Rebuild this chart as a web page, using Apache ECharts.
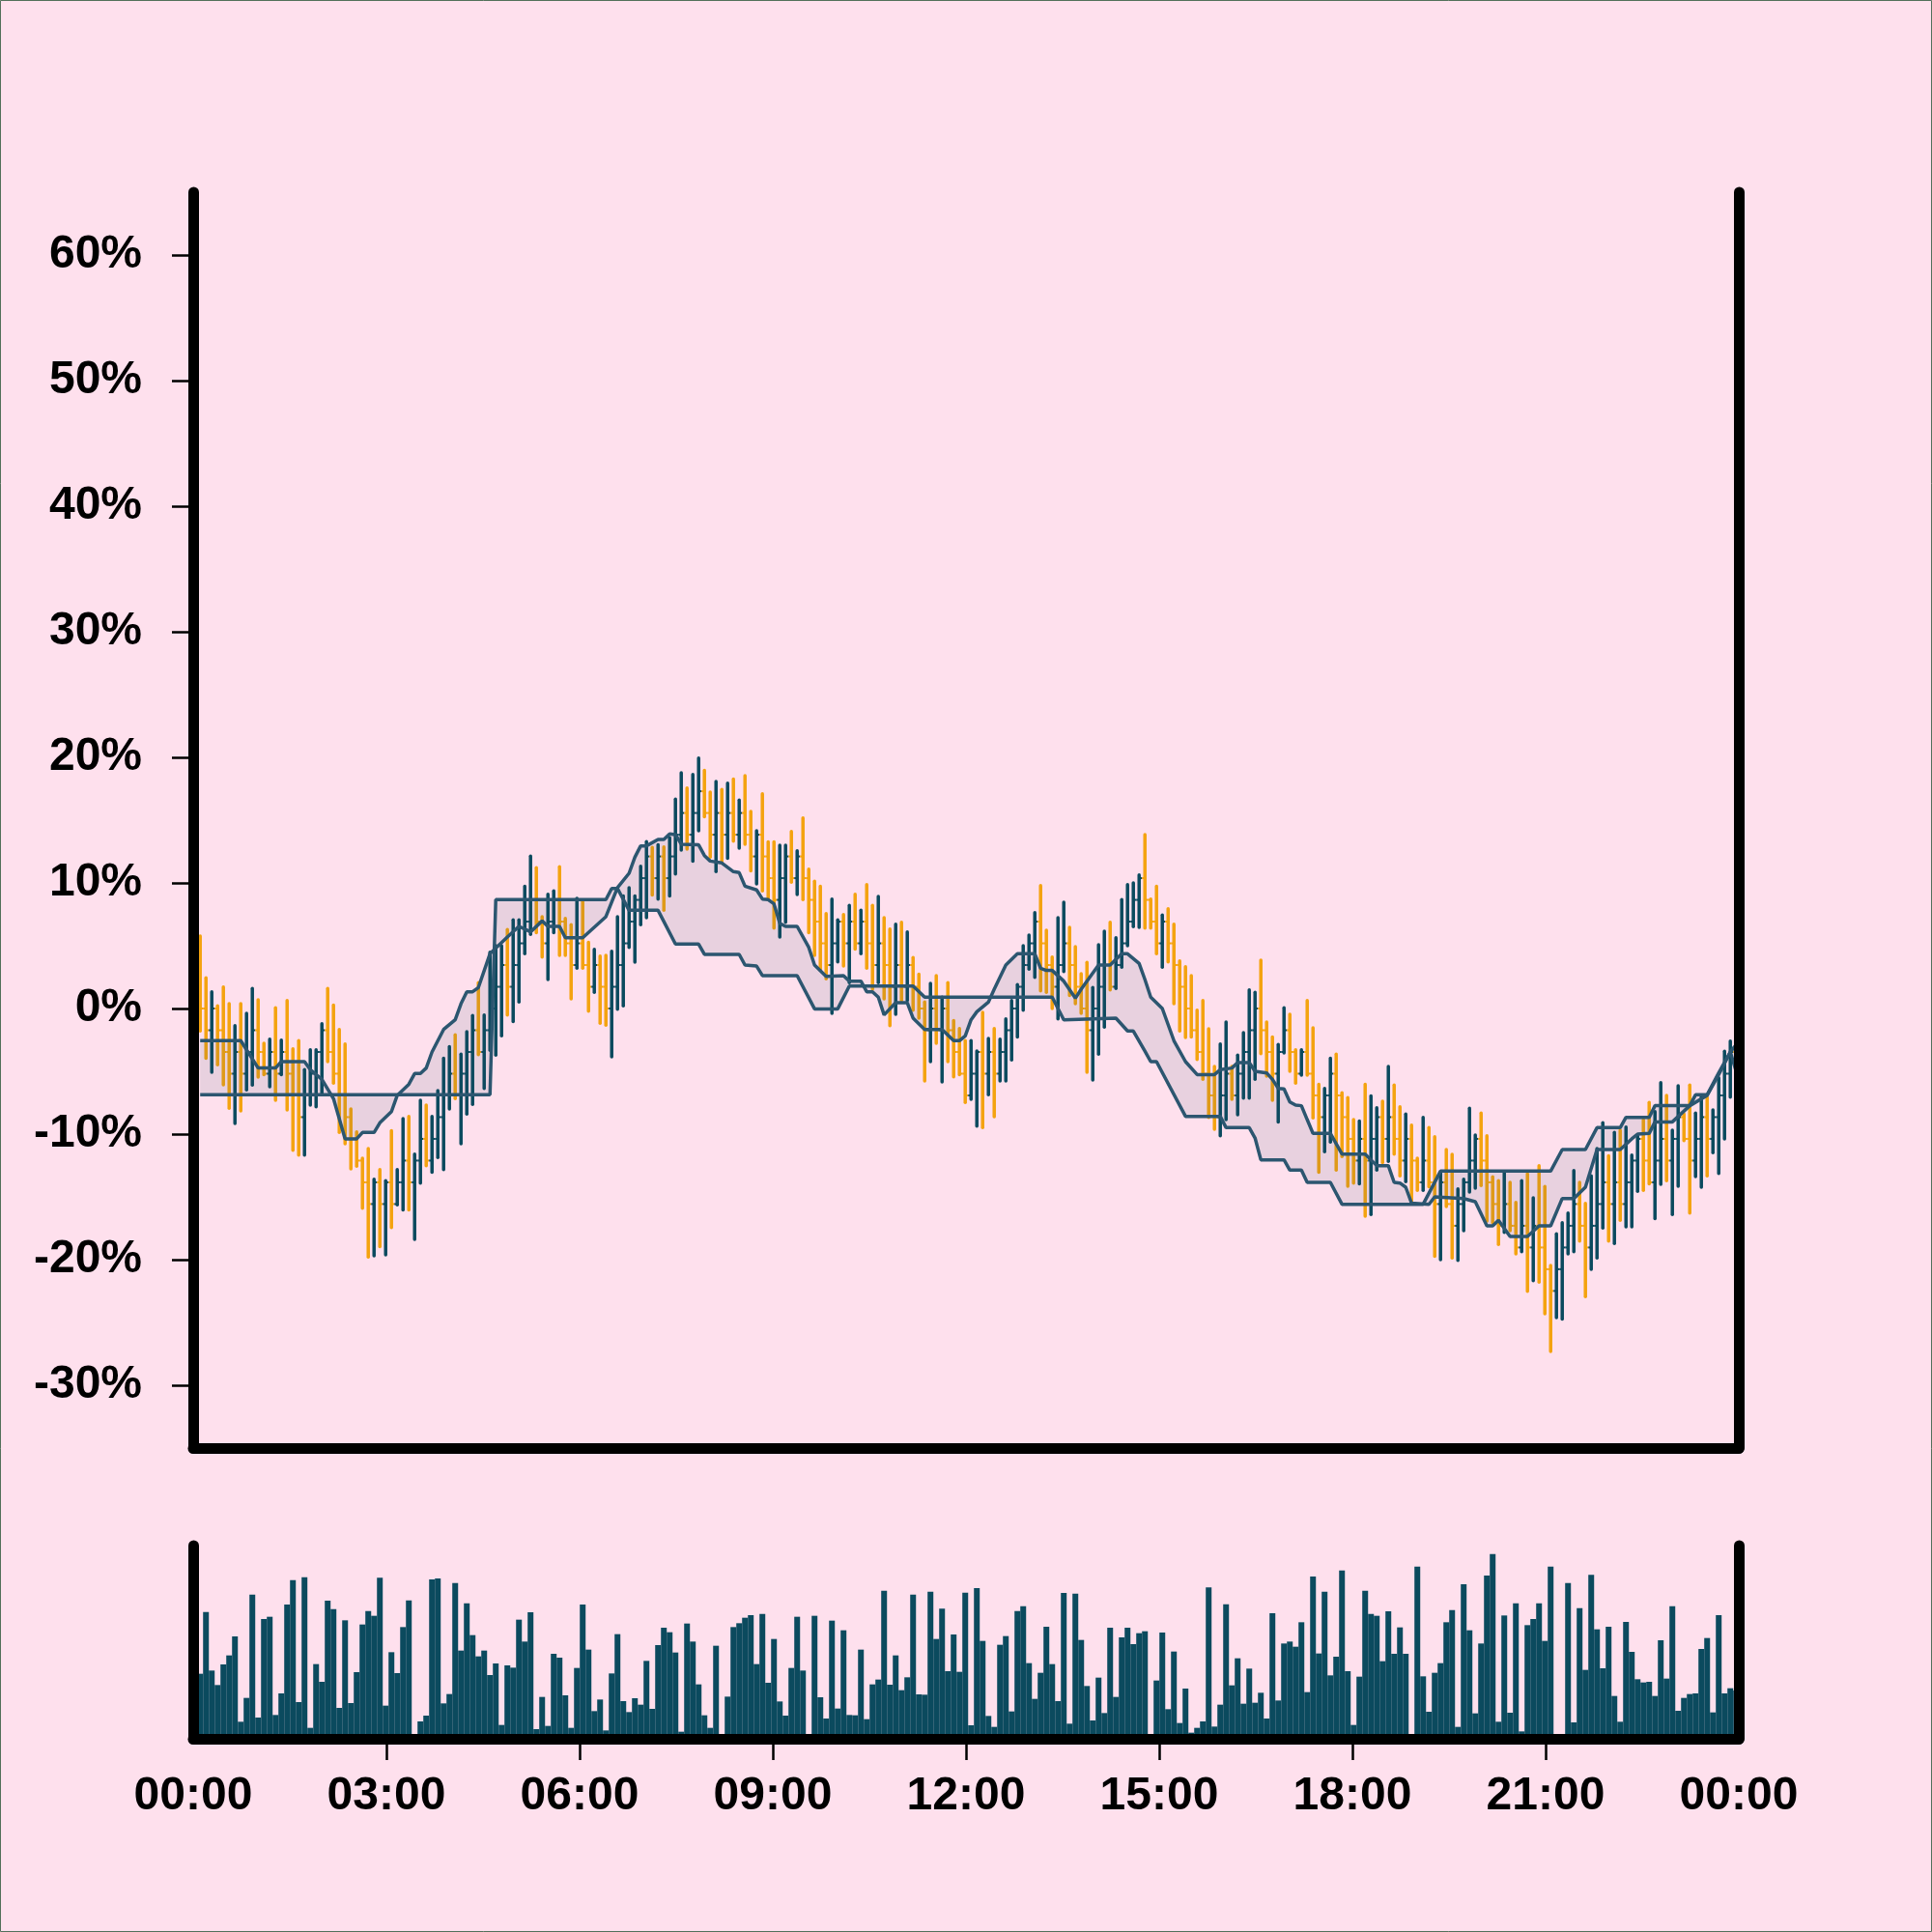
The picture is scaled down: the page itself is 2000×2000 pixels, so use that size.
<!DOCTYPE html>
<html>
<head>
<meta charset="utf-8">
<script src="https://cdn.jsdelivr.net/npm/echarts/dist/echarts.min.js"></script>
<style>
html,body{margin:0;padding:0;background:#fee0ed;}
#chart{width:2000px;height:2000px;}
</style>
</head>
<body>
<div id="chart"></div>
<script>
// ---- time layout of bars (minutes after 00:00) ----
const START_MIN = 6.5;
const STEP_MIN = 5.4;

// ---- OHLC values (% change) ----
const opens = [
1.73,0,-1.73,0,-1.73,-3.46,-5.19,-3.46,-5.19,-3.46,
-1.73,-3.46,-5.19,-3.46,-5.19,-3.46,-5.19,-6.92,-8.65,-6.92,
-5.19,-3.46,-1.73,-3.46,-5.19,-6.92,-8.65,-10.38,-12.11,-13.84,
-15.57,-13.84,-15.57,-13.84,-15.57,-13.84,-12.11,-13.84,-12.11,-10.38,
-12.11,-10.38,-8.65,-6.92,-5.19,-6.92,-5.19,-3.46,-1.73,-3.46,
-1.73,0,1.73,3.46,1.73,3.46,5.19,6.92,8.65,6.92,
5.19,6.92,8.65,6.92,5.19,3.46,5.19,3.46,1.73,3.46,
1.73,0,1.73,3.46,5.19,6.92,8.65,10.38,12.11,10.38,
12.11,10.38,12.11,13.84,15.57,13.84,15.57,17.30,15.57,13.84,
15.57,13.84,15.57,13.84,15.57,13.84,12.11,13.84,12.11,10.38,
8.65,10.38,12.11,10.38,12.11,10.38,8.65,6.92,5.19,3.46,
5.19,6.92,5.19,6.92,5.19,6.92,5.19,3.46,5.19,3.46,
1.73,3.46,1.73,3.46,1.73,0,-1.73,0,-1.73,0,
-1.73,-3.46,-5.19,-6.92,-5.19,-3.46,-5.19,-3.46,-5.19,-3.46,
-1.73,0,1.73,3.46,5.19,6.92,5.19,3.46,1.73,3.46,
5.19,3.46,1.73,0,-1.73,0,1.73,3.46,1.73,3.46,
5.19,6.92,8.65,10.38,8.65,6.92,5.19,6.92,5.19,3.46,
1.73,0,-1.73,-3.46,-5.19,-6.92,-8.65,-6.92,-5.19,-6.92,
-5.19,-3.46,-1.73,0,-1.73,-3.46,-5.19,-3.46,-1.73,-3.46,
-5.19,-3.46,-5.19,-6.92,-8.65,-6.92,-5.19,-6.92,-8.65,-10.38,
-12.11,-10.38,-12.11,-10.38,-8.65,-10.38,-8.65,-10.38,-12.11,-10.38,
-12.11,-13.84,-12.11,-13.84,-15.57,-13.84,-15.57,-17.30,-15.57,-13.84,
-12.11,-10.38,-12.11,-13.84,-15.57,-17.30,-15.57,-17.30,-19.03,-17.30,
-19.03,-17.30,-19.03,-20.76,-22.49,-20.76,-19.03,-17.30,-15.57,-17.30,
-19.03,-17.30,-15.57,-13.84,-15.57,-13.84,-15.57,-13.84,-12.11,-10.38,
-12.11,-13.84,-12.11,-10.38,-12.11,-10.38,-8.65,-10.38,-12.11,-10.38,
-8.65,-10.38,-8.65,-6.92,-5.19,-3.46
];
const closes = [
0,-1.73,0,-1.73,-3.46,-5.19,-3.46,-5.19,-3.46,-1.73,
-3.46,-5.19,-3.46,-5.19,-3.46,-5.19,-6.92,-8.65,-6.92,-5.19,
-3.46,-1.73,-3.46,-5.19,-6.92,-8.65,-10.38,-12.11,-13.84,-15.57,
-13.84,-15.57,-13.84,-15.57,-13.84,-12.11,-13.84,-12.11,-10.38,-12.11,
-10.38,-8.65,-6.92,-5.19,-6.92,-5.19,-3.46,-1.73,-3.46,-1.73,
0,1.73,3.46,1.73,3.46,5.19,6.92,8.65,6.92,5.19,
6.92,8.65,6.92,5.19,3.46,5.19,3.46,1.73,3.46,1.73,
0,1.73,3.46,5.19,6.92,8.65,10.38,12.11,10.38,12.11,
10.38,12.11,13.84,15.57,13.84,15.57,17.30,15.57,13.84,15.57,
13.84,15.57,13.84,15.57,13.84,12.11,13.84,12.11,10.38,8.65,
10.38,12.11,10.38,12.11,10.38,8.65,6.92,5.19,3.46,5.19,
6.92,5.19,6.92,5.19,6.92,5.19,3.46,5.19,3.46,1.73,
3.46,1.73,3.46,1.73,0,-1.73,0,-1.73,0,-1.73,
-3.46,-5.19,-6.92,-5.19,-3.46,-5.19,-3.46,-5.19,-3.46,-1.73,
0,1.73,3.46,5.19,6.92,5.19,3.46,1.73,3.46,5.19,
3.46,1.73,0,-1.73,0,1.73,3.46,1.73,3.46,5.19,
6.92,8.65,10.38,8.65,6.92,5.19,6.92,5.19,3.46,1.73,
0,-1.73,-3.46,-5.19,-6.92,-8.65,-6.92,-5.19,-6.92,-5.19,
-3.46,-1.73,0,-1.73,-3.46,-5.19,-3.46,-1.73,-3.46,-5.19,
-3.46,-5.19,-6.92,-8.65,-6.92,-5.19,-6.92,-8.65,-10.38,-12.11,
-10.38,-12.11,-10.38,-8.65,-10.38,-8.65,-10.38,-12.11,-10.38,-12.11,
-13.84,-12.11,-13.84,-15.57,-13.84,-15.57,-17.30,-15.57,-13.84,-12.11,
-10.38,-12.11,-13.84,-15.57,-17.30,-15.57,-17.30,-19.03,-17.30,-19.03,
-17.30,-19.03,-20.76,-22.49,-20.76,-19.03,-17.30,-15.57,-17.30,-19.03,
-17.30,-15.57,-13.84,-15.57,-13.84,-15.57,-13.84,-12.11,-10.38,-12.11,
-13.84,-12.11,-10.38,-12.11,-10.38,-8.65,-10.38,-12.11,-10.38,-8.65,
-10.38,-8.65,-6.92,-5.19,-3.46,-5.19
];
const highs = [
5.77,2.44,1.33,0.21,1.72,0.38,-1.36,0.38,-0.38,1.59,
0.69,-2.77,-2.44,0.05,-2.51,0.64,-3.21,-2.56,-4.87,-3.28,
-3.28,-1.21,1.59,0.26,-1.67,-2.82,-8.0,-9.82,-11.92,-11.15,
-13.59,-12.82,-13.72,-9.74,-12.82,-8.77,-8.59,-11.59,-7.31,-7.69,
-8.59,-6.54,-3.97,-3.03,-2.10,-3.64,-1.85,-0.56,2.05,-0.51,
4.49,5.0,5.0,6.28,7.05,7.05,9.74,12.13,11.21,7.31,
9.10,9.36,11.28,7.18,6.67,8.77,8.51,5.26,4.72,4.18,
4.23,4.56,7.31,8.97,9.62,8.97,11.33,13.28,12.82,13.03,
12.87,13.59,16.67,18.77,17.56,18.64,19.95,18.97,17.23,18.08,
17.44,17.95,18.26,16.59,18.54,15.69,14.15,17.10,13.26,13.26,
13.0,13.0,14.10,12.56,15.18,11.10,10.13,9.74,7.56,8.72,
7.05,7.49,8.21,9.10,7.82,9.87,8.21,8.92,7.23,6.33,
6.72,6.87,6.10,4.05,2.74,0.51,2.0,2.62,0.90,2.05,
-0.97,-1.59,-2.56,-2.56,-3.38,-0.31,-2.38,-1.59,-2.44,-0.82,
0.64,1.90,5.0,5.85,7.64,9.79,6.23,4.10,7.23,8.46,
6.46,4.92,2.77,3.67,1.67,5.08,6.15,6.87,5.64,8.67,
9.87,10.0,10.64,13.85,8.72,9.74,7.44,7.95,6.72,3.79,
3.33,2.62,-0.13,0.64,-1.62,-4.62,-2.82,-1.08,-4.62,-3.72,
-1.92,1.49,1.28,3.85,-1.08,-2.26,-2.87,0.05,-0.46,-3.28,
-3.28,0.64,-1.54,-6.03,-6.36,-3.97,-3.64,-6.72,-7.10,-8.85,
-8.97,-6.03,-6.97,-7.90,-7.38,-4.62,-6.10,-7.82,-8.41,-9.28,
-11.92,-8.67,-9.49,-10.21,-13.03,-11.23,-11.62,-14.36,-13.59,-7.95,
-10.08,-8.33,-10.13,-13.41,-13.72,-13.08,-13.85,-15.44,-13.72,-13.15,
-15.08,-12.51,-14.18,-20.46,-17.95,-17.05,-16.28,-12.90,-13.85,-15.51,
-13.33,-11.15,-9.10,-11.74,-9.87,-9.69,-9.44,-11.67,-10.13,-8.85,
-7.49,-8.21,-5.90,-6.92,-9.69,-6.15,-8.41,-6.10,-8.33,-6.92,
-7.05,-8.08,-5.51,-3.40,-2.60,-2.80
];
const lows = [
-1.79,-3.97,-5.08,-4.49,-6.08,-7.95,-9.15,-8.15,-6.49,-6.10,
-5.46,-5.26,-6.23,-7.31,-5.26,-8.08,-11.28,-11.67,-11.67,-7.69,
-7.82,-6.79,-4.23,-5.95,-9.87,-10.77,-12.77,-12.56,-15.90,-19.79,
-19.69,-18.97,-19.62,-17.44,-15.64,-16.03,-16.03,-18.38,-13.90,-12.51,
-13.03,-11.87,-12.82,-8.0,-7.18,-10.77,-8.41,-7.64,-3.67,-6.36,
-3.33,-3.72,-2.18,-0.51,-1.03,0.51,4.36,5.90,6.03,4.10,
2.31,6.03,4.23,4.23,0.77,3.21,3.21,-0.21,1.28,-1.18,
-1.33,-3.85,-0.05,0.21,4.87,3.69,6.67,7.23,9.03,8.72,
7.82,8.97,10.72,12.62,12.69,11.74,14.15,15.26,12.05,10.90,
11.67,11.97,13.33,12.77,13.08,10.97,9.92,9.36,8.67,6.41,
5.69,6.87,10.05,9.08,8.67,6.03,4.23,3.08,2.36,-0.38,
3.72,3.38,2.05,4.74,4.36,3.21,1.54,2.05,0.77,-1.36,
-0.46,0.64,0.64,-0.13,-0.77,-5.77,-4.23,-2.77,-5.85,-4.23,
-5.44,-5.26,-7.49,-7.23,-9.36,-9.49,-6.87,-8.62,-5.77,-5.77,
-4.10,-2.26,-0.13,3.13,2.49,1.41,1.28,0,-0.82,2.95,
1.03,0.38,-0.38,-5.08,-5.69,-3.64,-1.49,1.49,1.59,3.28,
5.0,6.51,6.46,6.41,6.41,4.36,3.28,3.72,0.38,-1.79,
-2.31,-2.26,-4.05,-5.64,-8.67,-9.62,-10.13,-8.85,-7.23,-8.46,
-7.13,-7.13,-5.64,-3.59,-5.38,-7.31,-9.03,-3.54,-5.0,-5.95,
-5.31,-5.30,-8.72,-13.03,-11.41,-10.64,-12.87,-11.79,-14.15,-13.90,
-13.97,-16.54,-16.41,-12.87,-12.26,-12.18,-11.59,-13.33,-13.79,-15.33,
-14.49,-14.49,-14.20,-19.74,-20.0,-15.77,-19.87,-20.05,-17.69,-14.62,
-14.31,-14.10,-16.92,-17.05,-18.79,-17.82,-17.69,-19.54,-19.36,-22.51,
-21.67,-21.79,-24.31,-27.31,-24.62,-24.74,-19.54,-19.36,-18.51,-22.95,
-20.77,-19.87,-17.49,-18.51,-18.72,-16.87,-17.38,-17.38,-14.56,-14.49,
-13.97,-16.74,-14.0,-13.72,-16.41,-14.15,-10.51,-16.28,-13.38,-14.23,
-13.33,-11.49,-13.13,-10.38,-7.05,-6.50
];
const volumes = [
2020,3940,2120,1670,2310,2590,3180,530,1270,4480,
660,3720,3790,740,1410,4170,4930,1140,5020,340,
2320,1770,4290,4030,960,3680,1110,2070,3550,3970,
3820,5000,1030,2690,2040,3470,4300,100,540,720,
4950,4980,1100,1390,4840,2740,4210,3220,2560,2740,
1980,2340,430,2280,2210,3700,3020,3930,300,1300,
400,2640,2520,1350,340,2200,4170,2770,860,1220,
260,2030,3250,1170,830,1260,1060,2420,930,2910,
3450,3310,2680,220,3580,3020,1690,730,340,2890,
100,1310,3470,3590,3760,3840,2320,3880,1740,3100,
1160,720,2200,3790,2120,100,3820,1290,630,3670,
940,3370,740,730,2770,610,1690,1840,4600,1680,
2590,1510,1910,4480,1380,1370,4570,3100,4040,2100,
3240,2080,4540,420,4680,3040,710,370,2920,3190,
850,3970,4120,2350,1240,2050,3480,2320,1170,4530,
470,4510,3070,1640,570,1900,800,3450,1300,3150,
3450,2940,3280,3340,100,1810,3300,920,2710,490,
1560,190,340,540,4700,380,1060,4180,1660,2500,
1090,2180,1120,1430,630,3900,1190,2960,3020,2860,
3620,1450,5040,2650,4570,1970,2550,5230,2100,430,
1930,4600,3880,3820,2410,3960,2640,3460,2640,100,
5350,1940,840,2050,2350,3620,4000,370,4800,3370,
790,2960,5070,5740,530,3830,810,4210,230,3530,
3720,4210,3040,5350,100,100,4840,510,4060,2140,
5090,3400,2190,3480,1330,530,3630,2700,1850,1750,
1770,1330,3060,1870,4120,870,1270,1390,1410,2790,
3130,820,3840,1410,1570,1500
];
// ---- cloud lines: [bar index, value %] at each corner ----
const spanA = [
[0,-2.56],[7,-2.56],[10,-4.74],[13,-4.74],[14,-4.23],[18,-4.23],[19,-4.87],[21,-5.64],[22,-6.41],[23,-7.18],
[25,-10.38],[27,-10.38],[28,-9.87],[30,-9.87],[31,-9.10],[33,-8.21],[34,-6.92],[36,-6.03],[37,-5.18],[38,-5.18],
[39,-4.74],[40,-3.46],[42,-1.67],[44,-0.90],[45,0.38],[46,1.33],[47,1.33],[48,1.67],[50,4.36],[53,5.69],
[55,6.54],[57,6.10],[59,6.97],[60,6.54],[62,6.54],[63,5.64],[66,5.64],[70,7.31],[72,9.62],[74,10.77],
[75,12.05],[76,12.95],[77,12.95],[79,13.46],[80,13.46],[81,13.90],[82,13.85],[83,13.08],[86,13.03],[87,12.18],
[88,11.74],[90,11.59],[92,10.90],[93,10.82],[94,9.74],[96,9.44],[97,8.72],[98,8.67],[99,8.33],[100,6.79],
[101,6.54],[103,6.54],[105,4.87],[106,3.46],[108,2.56],[111,2.62],[112,2.18],[114,2.18],[115,1.33],[116,1.33],
[117,0.90],[118,-0.51],[120,0.46],[122,0.46],[123,-0.77],[125,-1.67],[128,-1.67],[130,-2.56],[131,-2.56],[132,-2.18],
[133,-0.90],[134,-0.26],[136,0.51],[137,1.54],[139,3.46],[141,4.36],[144,4.36],[145,3.21],[146,3.03],[147,3.03],
[149,2.18],[151,0.82],[152,1.54],[155,3.46],[157,3.46],[159,4.36],[160,4.36],[162,3.59],[163,2.31],[164,0.90],
[166,0],[168,-2.56],[170,-4.23],[172,-5.26],[175,-5.26],[176,-4.87],[178,-4.74],[179,-4.31],[181,-4.31],[182,-5.0],
[184,-5.13],[185,-5.64],[186,-6.36],[187,-6.41],[188,-7.44],[189,-7.69],[190,-7.74],[191,-8.85],[192,-9.95],[195,-9.95],
[197,-11.59],[201,-11.59],[203,-12.51],[205,-12.51],[206,-13.85],[207,-13.90],[208,-14.23],[209,-15.5],[212,-15.6],[213,-15.0],
[218,-15.13],[220,-15.38],[222,-17.31],[223,-17.31],[224,-16.87],[226,-18.15],[229,-18.15],[231,-17.31],[233,-17.31],[235,-15.13],
[237,-15.13],[239,-14.23],[241,-11.23],[245,-11.23],[247,-10.38],[248,-10.0],[250,-9.95],[251,-9.03],[254,-9.03],[257,-7.74],
[260,-6.92],[262,-5.26],[264,-3.46],[265,-5.0]
];
const spanB = [
[0,-6.87],[50,-6.87],[51,8.67],[70,8.67],[71,9.56],[72,9.56],[74,7.82],[79,7.82],[82,5.13],[86,5.13],
[87,4.31],[93,4.31],[94,3.46],[96,3.38],[97,2.62],[103,2.62],[106,-0.03],[110,-0.03],[112,1.79],[123,1.79],
[125,0.90],[147,0.90],[149,-0.90],[158,-0.77],[160,-1.79],[161,-1.79],[163,-3.40],[164,-4.23],[165,-4.23],[170,-8.59],
[176,-8.59],[177,-9.49],[181,-9.49],[182,-10.31],[183,-12.05],[187,-12.05],[188,-12.87],[190,-12.87],[191,-13.85],[195,-13.85],
[197,-15.59],[211,-15.59],[214,-12.95],[233,-12.95],[235,-11.23],[239,-11.23],[241,-9.49],[245,-9.49],[246,-8.67],[250,-8.67],
[251,-7.74],[257,-7.74],[258,-6.87],[260,-6.87],[262,-5.13],[264,-3.46],[265,-2.9]
];
const yTicks = [-30,-20,-10,0,10,20,30,40,50,60];
const xTicks = [180,360,540,720,900,1080,1260];

// ---- styling ----
const BG = '#fee0ed';
const UP = '#0b4a5e';
const DOWN = '#f4a30f';
const LINE = '#2c5670';
const FILL = 'rgba(35,80,105,0.10)';
const FONT = '"Liberation Sans", Arial, Helvetica, sans-serif';
const AXIS_LINE = {show:true, onZero:false, lineStyle:{color:'#000', width:11, cap:'round'}};

const barTime = i => START_MIN + i * STEP_MIN;
const pad = n => String(n).padStart(2,'0');
const fmtTime = v => pad(Math.floor(v/60)%24) + ':' + pad(Math.round(v%60));

const ohlcData = closes.map((c,i) => [barTime(i), opens[i], c, lows[i], highs[i]]);
const volData = volumes.map((v,i) => [barTime(i), v]);
const aData = spanA.map(([i,v]) => [barTime(i), v]);
const bData = spanB.map(([i,v]) => [barTime(i), v]);

const chart = echarts.init(document.getElementById('chart'), null, {renderer:'canvas', width:2000, height:2000});
const option = {
  backgroundColor: BG,
  animation: false,
  grid: [
    {left:200, right:200, top:199, height:1300},
    {left:200, right:200, top:1600, height:200}
  ],
  xAxis: [
    {type:'value', gridIndex:0, min:0, max:1440, interval:180, z:10,
     axisLine:AXIS_LINE, axisTick:{show:false}, axisLabel:{show:false}, splitLine:{show:false}},
    {type:'value', gridIndex:1, min:0, max:1440, interval:180, z:10,
     axisLine:AXIS_LINE,
     axisTick:{show:true, length:22, customValues:xTicks, lineStyle:{color:'#000', width:2.5}},
     axisLabel:{show:true, margin:36, color:'#000', fontSize:48, fontWeight:'bold', fontFamily:FONT, formatter:fmtTime},
     splitLine:{show:false}}
  ],
  yAxis: [
    {type:'value', gridIndex:0, position:'left', min:-35, max:65, z:10,
     axisLine:AXIS_LINE,
     axisTick:{show:true, length:22, customValues:yTicks, lineStyle:{color:'#000', width:2.5}},
     axisLabel:{show:true, customValues:yTicks, margin:53, color:'#000', fontSize:48, fontWeight:'bold', fontFamily:FONT, formatter:v => v + '%'},
     splitLine:{show:false}},
    {type:'value', gridIndex:0, position:'right', min:-35, max:65, z:10,
     axisLine:AXIS_LINE, axisTick:{show:false}, axisLabel:{show:false}, splitLine:{show:false}},
    {type:'value', gridIndex:1, position:'left', min:0, max:6000, z:10,
     axisLine:AXIS_LINE, axisTick:{show:false}, axisLabel:{show:false}, splitLine:{show:false}},
    {type:'value', gridIndex:1, position:'right', min:0, max:6000, z:10,
     axisLine:AXIS_LINE, axisTick:{show:false}, axisLabel:{show:false}, splitLine:{show:false}}
  ],
  graphic: [
    {type:'rect', z:100, shape:{x:0.5, y:0.5, width:1999, height:1999}, style:{fill:null, stroke:'#52705a', lineWidth:1}}
  ],
  series: [
    {
      type:'custom', name:'price', xAxisIndex:0, yAxisIndex:0, z:2, clip:true,
      data: ohlcData,
      encode:{x:0, y:[1,2,3,4]},
      renderItem:(params, api) => {
        const t = api.value(0);
        const o = api.coord([t, api.value(1)]);
        const c = api.coord([t, api.value(2)]);
        const l = api.coord([t, api.value(3)]);
        const h = api.coord([t, api.value(4)]);
        const col = api.value(2) >= api.value(1) ? UP : DOWN;
        return {type:'group', children:[
          {type:'line', shape:{x1:h[0], y1:h[1], x2:l[0], y2:l[1]}, style:{stroke:col, lineWidth:3.5, lineCap:'round'}},
          {type:'line', shape:{x1:o[0]-3, y1:o[1], x2:o[0], y2:o[1]}, style:{stroke:col, lineWidth:2}},
          {type:'line', shape:{x1:c[0], y1:c[1], x2:c[0]+3, y2:c[1]}, style:{stroke:col, lineWidth:2}}
        ]};
      }
    },
    {
      type:'custom', name:'cloud', xAxisIndex:0, yAxisIndex:0, z:3, clip:true, silent:true,
      data:[[barTime(0), 0]],
      renderItem:(params, api) => {
        const pts = aData.map(p => api.coord(p)).concat(bData.slice().reverse().map(p => api.coord(p)));
        return {type:'polygon', shape:{points:pts}, style:{fill:FILL}};
      }
    },
    {type:'line', name:'spanA', xAxisIndex:0, yAxisIndex:0, z:4, data:aData, symbol:'none', lineStyle:{color:LINE, width:3.5}},
    {type:'line', name:'spanB', xAxisIndex:0, yAxisIndex:0, z:4, data:bData, symbol:'none', lineStyle:{color:LINE, width:3.5}},
    {type:'bar', name:'volume', xAxisIndex:1, yAxisIndex:2, z:2, data:volData, barWidth:6, itemStyle:{color:UP}}
  ]
};
chart.setOption(option);
</script>
</body>
</html>
